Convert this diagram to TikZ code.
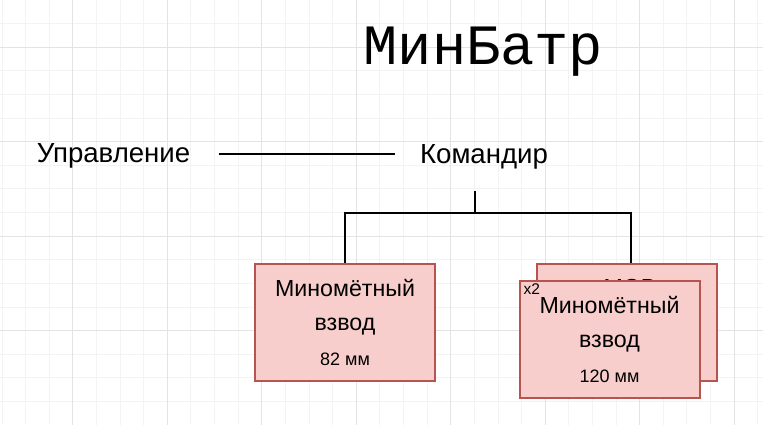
\documentclass[tikz,border=0pt]{standalone}
\usepackage{fontspec}
\setmainfont{Liberation Sans}
\newfontfamily\monofont{Liberation Mono}
\usetikzlibrary{positioning,calc}
\definecolor{unitfill}{HTML}{F8CECC}
\definecolor{unitdraw}{HTML}{B85450}
\definecolor{gridminor}{HTML}{F3F3F3}
\definecolor{gridmajor}{HTML}{E3E3E3}
\tikzstyle{conn} = [line width=2pt,black]
\tikzstyle{lbl} = [inner sep=0pt,font=\fontsize{27.6}{30}\selectfont]
\tikzstyle{unit} = [draw=unitdraw,fill=unitfill,line width=2pt,
    minimum width=180pt,minimum height=117pt,inner sep=0pt,align=center,
    font=\fontsize{23.2}{34.5}\selectfont]

\begin{document}
\begin{tikzpicture}[x=1pt,y=-1pt]
    \useasboundingbox (0,0) rectangle (763,425);
    \fill[white] (0,0) rectangle (763,425);
    % background grid, every fourth line darker
    \foreach \i in {0,...,32}{%
      \pgfmathsetmacro\xx{2+\i*23.62}
      \draw[gridminor,line width=1pt] (\xx,0) -- (\xx,425);}
    \foreach \j in {0,...,18}{%
      \pgfmathsetmacro\yy{\j*23.62}
      \draw[gridminor,line width=1pt] (0,\yy) -- (763,\yy);}
    \foreach \i in {3,7,...,31}{%
      \pgfmathsetmacro\xx{2+\i*23.62}
      \draw[gridmajor,line width=1pt] (\xx,0) -- (\xx,425);}
    \foreach \j in {2,6,...,18}{%
      \pgfmathsetmacro\yy{\j*23.62}
      \draw[gridmajor,line width=1pt] (0,\yy) -- (763,\yy);}

    \node[inner sep=0pt,anchor=base,font=\monofont\fontsize{57}{60}\selectfont] (title) at (483.5,65) {МинБатр};

    \node[lbl,anchor=base] (upr) at (113.5,162) {Управление};
    \node[lbl,anchor=base] (kom) at (484,163.3) {Командир};
    \coordinate (uprend) at ([xshift=29pt,yshift=1pt]upr.east);
    \coordinate (komend) at ([xshift=-25pt]kom.west);
    \draw[conn] (uprend) -- (uprend -| komend);

    % subordinate units
    \node[unit] (vz82) at (345,322) {Миномётный\\взвод\\{\fontsize{18}{34.5}\selectfont 82 мм}};
    \node[unit] (mov) at (626.5,322.5) {};
    \node[inner sep=0pt,anchor=base,font=\fontsize{23.2}{30}\selectfont] (movtxt) at ([xshift=3.5pt,yshift=-32pt]mov.north) {МОВ};
    \node[unit] (vz120) at (609.5,339) {Миномётный\\взвод\\{\fontsize{18}{34.5}\selectfont 120 мм}};
    \node[inner sep=0pt,anchor=base west,font=\fontsize{15.5}{17}\selectfont] (mult) at ([xshift=5pt,yshift=-15pt]vz120.north west) {x2};

    \coordinate (forktop) at (475,191);
    \coordinate (fork) at (475,213);
    \draw[conn] (forktop) -- (fork);
    \draw[conn] (vz82.north) |- (fork) -| ([xshift=4.5pt]mov.north);
\end{tikzpicture}
\end{document}
